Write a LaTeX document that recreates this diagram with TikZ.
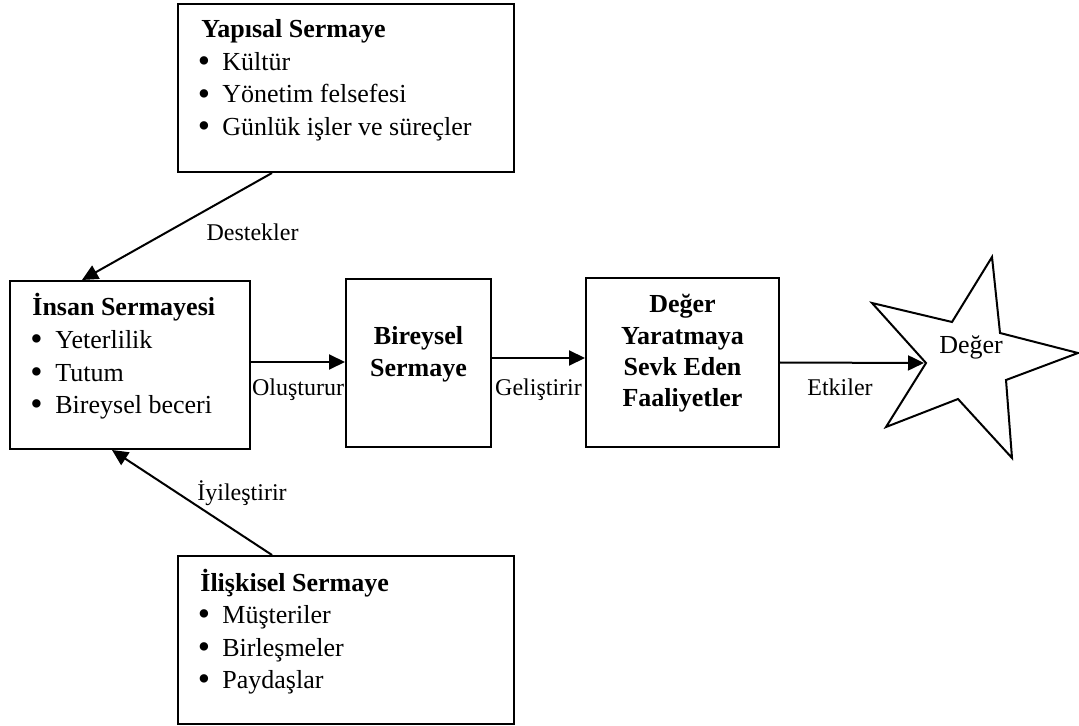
\documentclass[tikz,border=0pt]{standalone}
\usepackage{fontspec}
\setmainfont{Liberation Serif}
\usetikzlibrary{arrows.meta}
\newcommand{\bigbullet}{\raisebox{-1.2pt}{\scalebox{1.35}{\textbullet}}}
\begin{document}
\begin{tikzpicture}[x=0.5pt,y=-0.5pt,
  box/.style={draw, line width=1pt, inner sep=0pt, minimum height=84pt},
  head/.style={anchor=base west, inner sep=0pt, font=\fontsize{13}{16}\selectfont\bfseries},
  item/.style={anchor=base west, inner sep=0pt, font=\fontsize{13}{16}\selectfont},
  dot/.style={anchor=base, inner sep=0pt, font=\fontsize{13}{16}\selectfont},
  ctitle/.style={anchor=base, inner sep=0pt, font=\fontsize{13}{16}\selectfont\bfseries},
  lbl/.style={anchor=base, inner sep=0pt, font=\fontsize{12}{14}\selectfont},
  link/.style={line width=1pt, -{Triangle[length=8pt,width=7.5pt]}}]
\useasboundingbox (0,0) rectangle (1079,726);

% boxes
\node[box, minimum width=168pt] (yap) at (346,88) {};
\node[box, minimum width=120pt] (ins) at (130,365) {};
\node[box, minimum width=72.5pt] (bir) at (418.5,363) {};
\node[box, minimum width=96.5pt, minimum height=84.5pt] (deg) at (682.5,362.5) {};
\node[box, minimum width=168pt] (ili) at (346,640) {};

% Yapısal Sermaye
\node[head] (yapH) at (201,38) {Yapısal Sermaye};
\node[dot] (yapB1) at (204,70.5) {\bigbullet};
\node[item] (yapI1) at (222,70.5) {Kültür};
\node[dot] (yapB2) at (204,103) {\bigbullet};
\node[item] (yapI2) at (222,103) {Yönetim felsefesi};
\node[dot] (yapB3) at (204,135.5) {\bigbullet};
\node[item] (yapI3) at (222,135.5) {Günlük işler ve süreçler};

% İnsan Sermayesi
\node[head] (insH) at (32,316) {İnsan Sermayesi};
\node[dot] (insB1) at (36.5,348.5) {\bigbullet};
\node[item] (insI1) at (55,348.5) {Yeterlilik};
\node[dot] (insB2) at (36.5,381) {\bigbullet};
\node[item] (insI2) at (55,381) {Tutum};
\node[dot] (insB3) at (36.5,413.5) {\bigbullet};
\node[item] (insI3) at (55,413.5) {Bireysel beceri};

% İlişkisel Sermaye
\node[head] (iliH) at (200,591) {İlişkisel Sermaye};
\node[dot] (iliB1) at (204,623.5) {\bigbullet};
\node[item] (iliI1) at (222,623.5) {Müşteriler};
\node[dot] (iliB2) at (204,656) {\bigbullet};
\node[item] (iliI2) at (222,656) {Birleşmeler};
\node[dot] (iliB3) at (204,688.5) {\bigbullet};
\node[item] (iliI3) at (222,688.5) {Paydaşlar};

% Bireysel Sermaye
\node[ctitle] (birT1) at (418.5,344) {Bireysel};
\node[ctitle] (birT2) at (418.5,377) {Sermaye};

% Değer Yaratmaya Sevk Eden Faaliyetler
\node[ctitle] (degT1) at (682.5,313) {Değer};
\node[ctitle] (degT2) at (682.5,344) {Yaratmaya};
\node[ctitle] (degT3) at (682.5,375) {Sevk Eden};
\node[ctitle] (degT4) at (682.5,406) {Faaliyetler};

% star
\draw[line width=1pt, line join=miter]
  (926,363) -- (872,303) -- (952,322) -- (992,257) -- (1000,333)
  -- (1078,353) -- (1006,380) -- (1012,458) -- (958,399) -- (886,427) -- cycle;
\coordinate (starTip) at (924,363);
\node[item, anchor=base] (val) at (971,354) {Değer};

% connectors
\draw[link] ([xshift=47.5pt]yap.south west) -- ([xshift=36.5pt]ins.north west);
\draw[link] ([xshift=47.5pt]ili.north west) -- ([xshift=51.5pt]ins.south west);
\draw[link] ([yshift=1.5pt]ins.east) -- ([yshift=1.5pt]ins.east -| bir.west);
\draw[link] ([yshift=2.5pt]bir.east) -- ([yshift=2.5pt]bir.east -| deg.west);
\draw[link] (deg.east) -- (starTip);

% connector labels
\node[lbl] (lDes) at (252.5,241) {Destekler};
\node[lbl] (lIyi) at (242,500) {İyileştirir};
\node[lbl] (lOlu) at (298,395) {Oluşturur};
\node[lbl] (lGel) at (538.5,395) {Geliştirir};
\node[lbl] (lEtk) at (840,395) {Etkiler};
\end{tikzpicture}
\end{document}
